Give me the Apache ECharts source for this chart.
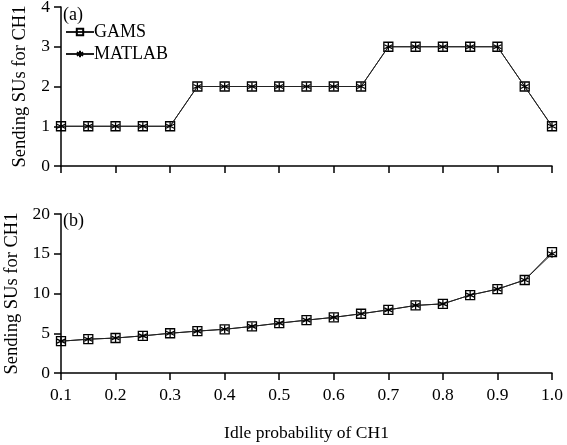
<!DOCTYPE html>
<html><head><meta charset="utf-8">
<script src="https://cdn.jsdelivr.net/npm/echarts@6/dist/echarts.min.js"></script>
<style>html,body{margin:0;padding:0;background:#fff}#c{width:567px;height:445px}</style>
</head><body><div id="c"></div>
<script>
var xVals = [0.1,0.15,0.2,0.25,0.3,0.35,0.4,0.45,0.5,0.55,0.6,0.65,0.7,0.75,0.8,0.85,0.9,0.95,1.0];
var gamsA = [1,1,1,1,1,2,2,2,2,2,2,2,3,3,3,3,3,2,1];
var matlabA = [1,1,1,1,1,2,2,2,2,2,2,2,3,3,3,3,3,2,1];
var gamsB = [4.0,4.25,4.4,4.67,5.0,5.27,5.5,5.86,6.27,6.65,7.0,7.45,7.95,8.5,8.7,9.8,10.55,11.7,15.2];
var matlabB = [4.0,4.25,4.4,4.67,5.0,5.27,5.5,5.86,6.27,6.65,7.0,7.45,7.95,8.5,8.7,9.8,10.55,11.7,15.0];
var xTicks = ['0.1','0.2','0.3','0.4','0.5','0.6','0.7','0.8','0.9','1.0'];

var font = 'Liberation Serif';
var star = 'path://M0,-5L0,5M-4.33,-2.5L4.33,2.5M-4.33,2.5L4.33,-2.5';
function pairs(ys){ return xVals.map(function(x,i){return [x, ys[i]];}); }
function xAxis(idx, showLabels){
  return {
    type:'value', gridIndex:idx, min:0.1, max:1.0, interval:0.1,
    axisLine:{show:true, onZero:false, lineStyle:{color:'#000', width:1.5}},
    axisTick:{show:true, inside:false, length:7, lineStyle:{color:'#000', width:1.5}},
    splitLine:{show:false},
    axisLabel:{show:showLabels, color:'#000', fontFamily:font, fontSize:17.5, margin:13,
      formatter:function(v){ var i=Math.round(v*10)-1; return xTicks[i]!==undefined?xTicks[i]:''; }},
    name: showLabels ? 'Idle probability of CH1' : '',
    nameLocation:'middle', nameGap:51,
    nameTextStyle:{color:'#000', fontFamily:font, fontSize:17.5}
  };
}
function yAxis(idx, max, interval){
  return {
    type:'value', gridIndex:idx, min:0, max:max, interval:interval,
    axisLine:{show:true, lineStyle:{color:'#000', width:1.5}},
    axisTick:{show:true, length:7, lineStyle:{color:'#000', width:1.5}},
    splitLine:{show:false},
    axisLabel:{color:'#000', fontFamily:font, fontSize:17.5, margin:11},
    name:'Sending SUs for CH1', nameLocation:'middle', nameGap:31, nameRotate:90,
    nameTextStyle:{color:'#000', fontFamily:font, fontSize:18.5}
  };
}
function ser(name, xi, data, isStar){
  return {
    name:name, type:'line', xAxisIndex:xi, yAxisIndex:xi, data:pairs(data),
    symbol: isStar ? star : 'rect', symbolSize: isStar ? 8 : 9,
    showAllSymbol:true,
    lineStyle:{color:'#222', width:1},
    itemStyle:{color: isStar ? 'none' : 'rgba(255,255,255,0)', borderColor:'#000', borderWidth:1.3},
    z: isStar ? 3 : 2,
    animation:false
  };
}
var chart = echarts.init(document.getElementById('c'), null, {renderer:'canvas'});
chart.setOption({
  animation:false,
  backgroundColor:'#fff',
  title:[
    {text:'(a)', left:61, top:6, padding:[0,0,0,2], textStyle:{fontFamily:font, fontSize:18, fontWeight:'normal', color:'#000'}},
    {text:'(b)', left:61, top:212, padding:[0,0,0,2], textStyle:{fontFamily:font, fontSize:18, fontWeight:'normal', color:'#000'}}
  ],
  legend:{
    left:60, top:18, orient:'vertical', itemGap:4, itemWidth:28, itemHeight:8,
    data:['GAMS','MATLAB'],
    textStyle:{fontFamily:font, fontSize:18, color:'#000', padding:[0,0,0,-5]}
  },
  grid:[
    {left:61, top:7, width:491, height:159, containLabel:false, outerBoundsMode:'none'},
    {left:61, top:214, width:491, height:159, containLabel:false, outerBoundsMode:'none'}
  ],
  xAxis:[xAxis(0,false), xAxis(1,true)],
  yAxis:[yAxis(0,4,1), yAxis(1,20,5)],
  series:[
    ser('GAMS',0,gamsA,false),
    ser('MATLAB',0,matlabA,true),
    ser('GAMS',1,gamsB,false),
    ser('MATLAB',1,matlabB,true)
  ]
});
</script></body></html>
